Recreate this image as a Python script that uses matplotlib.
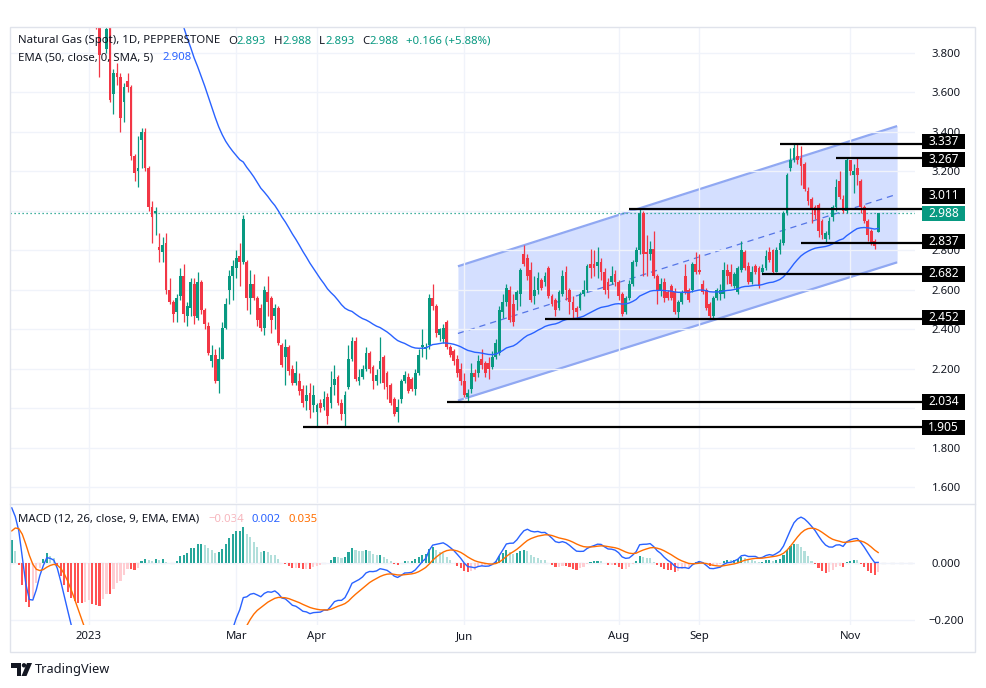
import numpy as np
import matplotlib
matplotlib.use("Agg")
import matplotlib.pyplot as plt
import matplotlib.transforms as mtransforms
from matplotlib.patches import Rectangle, Polygon, Circle
from matplotlib.lines import Line2D
from matplotlib.ticker import FuncFormatter

plt.rcParams['font.family'] = ['Noto Sans', 'DejaVu Sans']

# closes Nov 30 - Dec 30 2022 (above the visible price range, feed the indicators only)
hist_close = [6.55, 6.25, 5.95, 5.30, 5.05, 5.25, 5.75, 6.20, 6.45, 6.40, 6.40, 6.10,
              6.05, 5.75, 5.45, 5.25, 5.10, 4.95, 4.85, 4.75, 4.65, 4.55, 4.48]

# daily candles from Jan 2 2023 to the last bar
open_ = [4.40, 4.05, 3.98, 3.95, 3.82, 3.95, 3.59, 3.70, 3.68, 3.55,
         3.66, 3.63, 3.28, 3.20, 3.36, 3.40, 3.22, 3.02, 2.99, 2.82,
         2.79, 2.84, 2.60, 2.54, 2.49, 2.57, 2.67, 2.47, 2.51, 2.63,
         2.46, 2.64, 2.50, 2.42, 2.24, 2.27, 2.14, 2.25, 2.41, 2.60,
         2.67, 2.71, 2.77, 2.74, 2.74, 2.56, 2.63, 2.56, 2.51, 2.41,
         2.59, 2.56, 2.47, 2.51, 2.32, 2.26, 2.31, 2.20, 2.13, 2.14,
         2.10, 2.04, 2.08, 2.02, 1.98, 2.03, 2.01, 2.06, 2.03, 2.12,
         2.16, 2.03, 1.97, 2.11, 2.25, 2.34, 2.14, 2.16, 2.20, 2.28,
         2.21, 2.14, 2.20, 2.26, 2.18, 2.12, 2.05, 1.98, 2.05, 2.14,
         2.16, 2.15, 2.10, 2.18, 2.31, 2.30, 2.32, 2.56, 2.52, 2.37,
         2.35, 2.44, 2.31, 2.29, 2.25, 2.20, 2.14, 2.06, 2.10, 2.18,
         2.18, 2.25, 2.23, 2.23, 2.21, 2.26, 2.28, 2.49, 2.54, 2.60,
         2.53, 2.55, 2.58, 2.78, 2.76, 2.70, 2.57, 2.60, 2.65, 2.64,
         2.71, 2.57, 2.55, 2.51, 2.58, 2.69, 2.60, 2.54, 2.51, 2.51,
         2.58, 2.60, 2.73, 2.73, 2.72, 2.74, 2.69, 2.64, 2.64, 2.68,
         2.64, 2.58, 2.49, 2.56, 2.63, 2.74, 2.80, 2.99, 2.79, 2.78,
         2.81, 2.67, 2.60, 2.64, 2.59, 2.62, 2.59, 2.49, 2.54, 2.67,
         2.60, 2.60, 2.73, 2.70, 2.63, 2.60, 2.53, 2.47, 2.56, 2.58,
         2.58, 2.70, 2.69, 2.62, 2.59, 2.70, 2.79, 2.72, 2.64, 2.72,
         2.71, 2.69, 2.71, 2.79, 2.80, 2.69, 2.80, 2.84, 2.99, 3.22,
         3.26, 3.28, 3.27, 3.24, 3.10, 3.06, 3.02, 3.03, 2.95, 2.86,
         2.88, 2.97, 3.02, 3.15, 3.06, 3.00, 3.26, 3.18, 3.22, 3.15,
         3.02, 2.95, 2.90, 2.85, 2.893]
high = [4.45, 4.15, 4.02, 4.08, 3.95, 3.97, 3.72, 3.75, 3.70, 3.65,
        3.70, 3.64, 3.29, 3.38, 3.42, 3.42, 3.23, 3.05, 3.02, 2.89,
        2.87, 2.89, 2.66, 2.55, 2.58, 2.71, 2.73, 2.54, 2.66, 2.66,
        2.69, 2.65, 2.51, 2.44, 2.32, 2.30, 2.31, 2.44, 2.56, 2.70,
        2.75, 2.80, 2.84, 2.98, 2.75, 2.70, 2.68, 2.57, 2.53, 2.62,
        2.67, 2.57, 2.53, 2.52, 2.33, 2.35, 2.32, 2.22, 2.24, 2.18,
        2.12, 2.12, 2.13, 2.12, 2.03, 2.05, 2.09, 2.08, 2.19, 2.22,
        2.17, 2.05, 2.09, 2.32, 2.36, 2.36, 2.20, 2.22, 2.31, 2.29,
        2.22, 2.20, 2.36, 2.27, 2.19, 2.13, 2.06, 2.05, 2.15, 2.19,
        2.18, 2.16, 2.20, 2.30, 2.40, 2.33, 2.58, 2.63, 2.53, 2.41,
        2.43, 2.45, 2.32, 2.30, 2.27, 2.23, 2.18, 2.10, 2.23, 2.20,
        2.27, 2.30, 2.24, 2.26, 2.29, 2.35, 2.52, 2.58, 2.63, 2.62,
        2.58, 2.60, 2.71, 2.83, 2.78, 2.74, 2.67, 2.69, 2.66, 2.69,
        2.72, 2.58, 2.56, 2.60, 2.70, 2.72, 2.61, 2.57, 2.52, 2.59,
        2.65, 2.73, 2.81, 2.80, 2.82, 2.76, 2.71, 2.66, 2.72, 2.70,
        2.65, 2.59, 2.57, 2.65, 2.75, 2.82, 3.011, 3.00, 2.88, 2.85,
        2.90, 2.68, 2.66, 2.66, 2.60, 2.63, 2.61, 2.55, 2.60, 2.73,
        2.61, 2.74, 2.79, 2.78, 2.65, 2.61, 2.54, 2.57, 2.61, 2.63,
        2.74, 2.73, 2.73, 2.69, 2.72, 2.85, 2.80, 2.74, 2.72, 2.73,
        2.72, 2.73, 2.80, 2.82, 2.81, 2.82, 2.86, 3.00, 3.19, 3.32,
        3.337, 3.337, 3.33, 3.25, 3.12, 3.07, 3.03, 3.04, 2.96, 2.90,
        2.97, 3.03, 3.16, 3.20, 3.08, 3.267, 3.26, 3.24, 3.27, 3.16,
        3.03, 2.96, 2.91, 2.86, 2.988]
low = [3.93, 3.92, 3.68, 3.94, 3.80, 3.55, 3.49, 3.64, 3.40, 3.45,
       3.60, 3.26, 3.15, 3.12, 3.22, 3.20, 3.00, 2.84, 2.88, 2.74,
       2.74, 2.58, 2.53, 2.44, 2.44, 2.55, 2.44, 2.42, 2.47, 2.43,
       2.45, 2.48, 2.40, 2.27, 2.21, 2.13, 2.08, 2.25, 2.40, 2.53,
       2.55, 2.66, 2.62, 2.73, 2.50, 2.48, 2.55, 2.42, 2.39, 2.37,
       2.47, 2.38, 2.40, 2.32, 2.21, 2.12, 2.17, 2.12, 2.12, 2.07,
       2.01, 1.99, 1.95, 1.98, 1.91, 1.98, 1.99, 1.92, 2.00, 2.07,
       2.02, 1.94, 1.905, 2.10, 2.24, 2.14, 2.12, 2.15, 2.19, 2.18,
       2.10, 2.12, 2.13, 2.10, 2.05, 2.02, 1.96, 1.93, 2.03, 2.13,
       2.08, 2.09, 2.07, 2.17, 2.26, 2.25, 2.30, 2.50, 2.36, 2.34,
       2.33, 2.30, 2.26, 2.22, 2.16, 2.12, 2.06, 2.034, 2.08, 2.14,
       2.16, 2.20, 2.16, 2.15, 2.20, 2.25, 2.27, 2.46, 2.52, 2.44,
       2.42, 2.50, 2.52, 2.72, 2.65, 2.54, 2.53, 2.58, 2.60, 2.62,
       2.56, 2.52, 2.47, 2.50, 2.57, 2.55, 2.48, 2.46, 2.452, 2.50,
       2.57, 2.59, 2.66, 2.67, 2.66, 2.65, 2.58, 2.56, 2.63, 2.62,
       2.55, 2.47, 2.48, 2.55, 2.62, 2.72, 2.78, 2.67, 2.67, 2.75,
       2.66, 2.53, 2.57, 2.54, 2.55, 2.55, 2.48, 2.46, 2.53, 2.58,
       2.54, 2.59, 2.68, 2.68, 2.58, 2.50, 2.455, 2.46, 2.55, 2.55,
       2.56, 2.63, 2.62, 2.61, 2.58, 2.69, 2.70, 2.63, 2.63, 2.68,
       2.61, 2.68, 2.70, 2.74, 2.682, 2.69, 2.78, 2.83, 2.98, 3.20,
       3.25, 3.24, 3.13, 3.10, 3.03, 2.94, 2.96, 2.87, 2.86, 2.837,
       2.86, 2.95, 3.00, 3.06, 2.99, 2.99, 3.18, 3.09, 3.13, 2.99,
       2.94, 2.85, 2.83, 2.81, 2.893]
close = [4.05, 3.98, 3.79, 4.02, 3.92, 3.56, 3.70, 3.68, 3.47, 3.63,
         3.63, 3.28, 3.19, 3.22, 3.40, 3.22, 3.02, 2.97, 3.00, 2.80,
         2.83, 2.60, 2.54, 2.48, 2.56, 2.67, 2.48, 2.52, 2.64, 2.47,
         2.64, 2.50, 2.43, 2.28, 2.27, 2.14, 2.25, 2.41, 2.53, 2.67,
         2.72, 2.76, 2.74, 2.96, 2.56, 2.63, 2.56, 2.45, 2.41, 2.60,
         2.54, 2.45, 2.51, 2.33, 2.22, 2.31, 2.19, 2.13, 2.18, 2.09,
         2.03, 2.07, 1.99, 2.07, 2.02, 2.00, 2.05, 1.96, 2.11, 2.15,
         2.03, 1.97, 2.07, 2.25, 2.34, 2.15, 2.16, 2.20, 2.28, 2.20,
         2.14, 2.17, 2.24, 2.13, 2.11, 2.03, 1.97, 2.01, 2.14, 2.17,
         2.09, 2.10, 2.18, 2.27, 2.32, 2.31, 2.56, 2.52, 2.38, 2.40,
         2.41, 2.31, 2.27, 2.24, 2.18, 2.14, 2.07, 2.08, 2.18, 2.16,
         2.24, 2.22, 2.18, 2.20, 2.26, 2.33, 2.50, 2.54, 2.61, 2.45,
         2.44, 2.59, 2.70, 2.73, 2.67, 2.55, 2.60, 2.66, 2.61, 2.67,
         2.57, 2.53, 2.50, 2.59, 2.67, 2.60, 2.54, 2.50, 2.49, 2.58,
         2.60, 2.72, 2.71, 2.71, 2.74, 2.69, 2.60, 2.60, 2.67, 2.64,
         2.57, 2.48, 2.56, 2.63, 2.74, 2.80, 2.99, 2.78, 2.78, 2.81,
         2.67, 2.60, 2.63, 2.56, 2.56, 2.56, 2.49, 2.54, 2.59, 2.59,
         2.55, 2.73, 2.69, 2.69, 2.59, 2.51, 2.47, 2.56, 2.60, 2.60,
         2.70, 2.67, 2.63, 2.68, 2.71, 2.80, 2.71, 2.64, 2.69, 2.69,
         2.62, 2.71, 2.77, 2.75, 2.69, 2.80, 2.84, 2.99, 3.18, 3.26,
         3.32, 3.26, 3.23, 3.11, 3.05, 3.01, 2.98, 2.90, 2.88, 2.89,
         2.95, 3.02, 3.12, 3.07, 3.00, 3.26, 3.20, 3.20, 3.18, 3.02,
         2.95, 2.88, 2.84, 2.822, 2.988]

# indicator state on the first bar (from history before the window)
ema50_seed = 5.8
ema12_seed, ema26_seed, signal_seed = 6.45, 6.26, 0.11

month_labels = ['2023', 'Mar', 'Apr', 'Jun', 'Aug', 'Sep', 'Nov']
month_bars = [22, 64, 87, 129, 173, 196, 239]

levels = [3.337, 3.267, 3.011, 2.837, 2.682, 2.452, 2.034, 1.905]
level_from = [219, 235, 176, 225, 214, 152, 124, 83]
label_shift_px = [-3, 1, -13, -1.5, 0, -1.5, 0, 0]   # scale labels pushed apart
last_price = 2.988

channel_bars = [127.2, 252.4]
channel_top = [2.72, 3.43]
channel_bottom = [2.04, 2.74]

UP, DOWN = '#089981', '#f23645'
TXT = '#131722'
GRID = '#f0f3fa'
FS = 8.2


def ema(values, n, seed):
    a = 2.0 / (n + 1)
    out = np.empty(len(values))
    out[0] = seed
    for i in range(1, len(values)):
        out[i] = out[i - 1] + a * (values[i] - out[i - 1])
    return out


closes = np.array(hist_close + close)
xs = np.arange(len(closes))
ema50 = ema(closes, 50, ema50_seed)
macd = ema(closes, 12, ema12_seed) - ema(closes, 26, ema26_seed)
signal = np.empty(len(macd))
signal[0] = signal_seed
for i in range(1, len(macd)):
    signal[i] = signal[i - 1] + 0.2 * (macd[i] - signal[i - 1])
hist = macd - signal

W, H = 986, 688
fig = plt.figure(figsize=(W / 100, H / 100), dpi=100)
px = mtransforms.Affine2D().scale(1 / W, -1 / H).translate(0, 1) + fig.transFigure


def box(l, t, r, b):
    return [l / W, 1 - b / H, (r - l) / W, (b - t) / H]


ax = fig.add_axes(box(10, 27, 915, 503))
axm = fig.add_axes(box(10, 505, 915, 625))

for a in (ax, axm):
    a.set_xlim(-0.5, 257.5)
    a.patch.set_visible(False)
    for s in a.spines.values():
        s.set_visible(False)
    a.set_xticks(month_bars)
    a.grid(True, color=GRID, lw=1, zorder=0)
    a.yaxis.tick_right()
    a.tick_params(axis='y', length=0, pad=22.5, labelsize=FS, labelcolor=TXT)
    a.tick_params(axis='x', length=0)

# ---- price pane
ppx = 197.5          # pixels per 1.0 of price
ax.set_ylim(1.5215, 3.9316)
ax.set_yticks(np.round(np.arange(1.6, 3.81, 0.2), 1))
ax.yaxis.set_major_formatter(FuncFormatter(
    lambda v, p: '' if abs(v - 2.0) < 1e-6 or abs(v - 3.0) < 1e-6 else f'{v:.3f}'))
ax.set_xticklabels([])
for lab in ax.get_yticklabels():
    lab.set_horizontalalignment('center')

cx = np.array(channel_bars)
ct, cb = np.array(channel_top), np.array(channel_bottom)
ax.fill_between(cx, cb, ct, color='#2962ff', alpha=0.2, lw=0, zorder=1)
ax.plot(cx, ct, color='#90a8f2', lw=1.6, zorder=1.5, solid_capstyle='butt')
ax.plot(cx, cb, color='#90a8f2', lw=1.6, zorder=1.5, solid_capstyle='butt')
ax.plot(cx, (ct + cb) / 2, color='#5575e6', lw=0.9, ls=(0, (5, 4)), zorder=1.5)

o, h, l, c = map(np.array, (open_, high, low, close))
cxs = np.arange(len(hist_close), len(closes))
cols = np.where(c >= o, UP, DOWN)
ax.vlines(cxs, l, h, colors=cols, lw=0.9, zorder=3)
ax.bar(cxs, np.maximum(np.abs(c - o), 0.004), bottom=np.minimum(o, c), width=0.8,
       color=cols, lw=0, zorder=3.1)

ax.plot(xs, ema50, color='#2962ff', lw=1, zorder=4)
ax.axhline(last_price, color=UP, lw=0.9, ls=(0, (1, 2.2)), zorder=2)

mix = mtransforms.blended_transform_factory(ax.transAxes, ax.transData)
bh = 15.5 / ppx
bx0, bw = (922 - 10) / 905, 43 / 905
for lev, start in zip(levels, level_from):
    ax.plot([start, 259.5], [lev, lev], color='black', lw=1.6, zorder=5,
            clip_on=False, solid_capstyle='butt')
tags = [(v, -s / ppx, 'black') for v, s in zip(levels, label_shift_px)] + [(last_price, 0, UP)]
for lev, dy, fc in tags:
    yc = lev + dy
    ax.add_patch(Rectangle((bx0, yc - bh / 2), bw, bh, transform=mix, fc=fc,
                           ec='none', clip_on=False, zorder=6))
    ax.text(bx0 + bw / 2, yc, f'{lev:.3f}', transform=mix, color='white',
            fontsize=8.6, fontweight='bold', ha='center', va='center', zorder=7)

# ---- MACD pane
axm.set_ylim(-0.217, 0.200)
axm.set_yticks([0.0, -0.2])
axm.yaxis.set_major_formatter(FuncFormatter(lambda v, p: f'{v:.3f}'.replace('-', '\u2212')))
for lab in axm.get_yticklabels():
    lab.set_horizontalalignment('center')
axm.set_xticklabels(month_labels)
axm.tick_params(axis='x', pad=4.5, labelsize=FS, labelcolor=TXT)
axm.get_xticklabels()[0].set_fontweight('bold')

prev = np.r_[hist[0], hist[:-1]]
hcols = np.where(hist >= 0, np.where(hist >= prev, '#26a69a', '#b2dfdb'),
                 np.where(hist < prev, '#ff5252', '#ffcdd2'))
axm.axhline(0, color='#9598a1', lw=0.8, ls=(0, (4, 4)), zorder=0.5)
axm.bar(xs, hist, width=0.6, color=hcols, lw=0, zorder=2)
axm.plot(xs, macd, color='#2962ff', lw=1, zorder=3)
axm.plot(xs, signal, color='#ff6d00', lw=1, zorder=3)

# ---- frame
fig.add_artist(Rectangle((10, 27), 965, 625, transform=px, fill=False, ec='#e0e3eb', lw=1))
fig.add_artist(Line2D([10, 975], [504, 504], transform=px, color='#e0e3eb', lw=1))


def header(segments, x, y, size=FS):
    t = fig.text(x, y, segments[0][0], color=segments[0][1], fontsize=size,
                 va='center', ha='left', transform=px)
    for s, col, gap in segments[1:]:
        t = ax.annotate(s, xy=(1, 0), xycoords=t, xytext=(gap, 0), textcoords='offset points',
                        va='bottom', ha='left', color=col, fontsize=size, annotation_clip=False)


header([('Natural Gas (Spot), 1D, PEPPERSTONE', TXT),
        ('O', TXT, 5.5), ('2.893', UP, 0), ('H', TXT, 5.5), ('2.988', UP, 0),
        ('L', TXT, 5.5), ('2.893', UP, 0), ('C', TXT, 5.5), ('2.988', UP, 0),
        ('+0.166 (+5.88%)', UP, 5.5)], 18, 41)
header([('EMA (50, close, 0, SMA, 5)', TXT), ('2.908', '#2962ff', 6.5)], 18, 58)
header([('MACD (12, 26, close, 9, EMA, EMA)', TXT), ('\u22120.034', '#f7b6bd', 6.5),
        ('0.002', '#2962ff', 5.5), ('0.035', '#ff6d00', 5.5)], 18, 519)

# ---- TradingView mark
fig.add_artist(Polygon([(11, 663), (21, 663), (21, 676), (16.5, 676), (16.5, 667.5), (11, 667.5)],
                       closed=True, transform=px, fc=TXT, ec='none'))
fig.add_artist(Circle((24, 665.3), 2.2, transform=px, fc=TXT, ec='none'))
fig.add_artist(Polygon([(27, 663), (32, 663), (26.5, 676), (21.5, 676)],
                       closed=True, transform=px, fc=TXT, ec='none'))
fig.text(35, 669.5, 'TradingView', transform=px, fontsize=9.2, color=TXT, va='center', ha='left')

fig.savefig('out.png', dpi=100, facecolor='white')
